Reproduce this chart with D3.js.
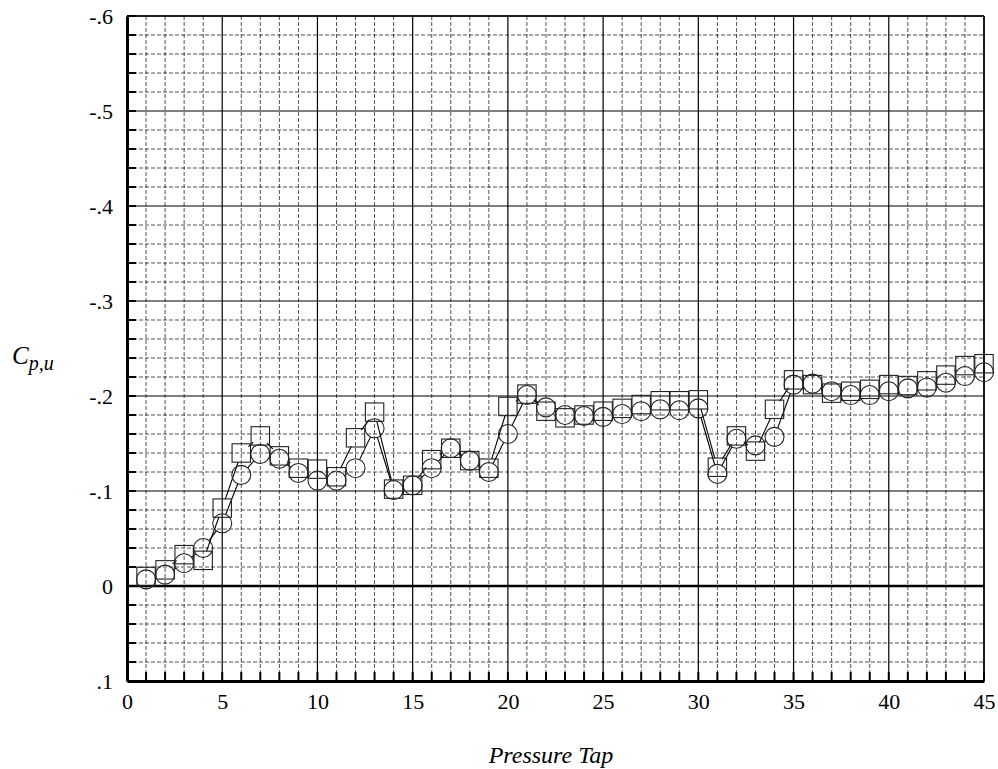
<!DOCTYPE html>
<html>
<head>
<meta charset="utf-8">
<script src="https://cdn.jsdelivr.net/npm/d3@7"></script>
<style>
  html, body { margin: 0; padding: 0; background: #fff; }
  svg { display: block; }
  text { font-family: "Liberation Serif", "Times New Roman", serif; fill: #000; }
</style>
</head>
<body>
<svg id="chart" width="998" height="769"></svg>
<script>
// Pressure tap numbers
const taps = d3.range(1, 46);
// Series A (circles)
const circleValues = [
  -0.007, -0.012, -0.024, -0.040, -0.066, -0.117, -0.139, -0.134, -0.119, -0.111,
  -0.111, -0.124, -0.166, -0.101, -0.106, -0.124, -0.145, -0.132, -0.120, -0.160,
  -0.201, -0.188, -0.180, -0.179, -0.178, -0.181, -0.184, -0.186, -0.185, -0.187,
  -0.118, -0.155, -0.148, -0.157, -0.212, -0.213, -0.205, -0.201, -0.201, -0.205,
  -0.208, -0.209, -0.214, -0.221, -0.225
];
// Series B (squares)
const squareValues = [
  -0.010, -0.017, -0.033, -0.027, -0.082, -0.140, -0.158, -0.137, -0.124, -0.123,
  -0.115, -0.156, -0.183, -0.102, -0.106, -0.133, -0.145, -0.132, -0.124, -0.189,
  -0.202, -0.184, -0.177, -0.180, -0.184, -0.187, -0.191, -0.195, -0.195, -0.196,
  -0.125, -0.158, -0.142, -0.186, -0.217, -0.212, -0.203, -0.205, -0.207, -0.212,
  -0.211, -0.216, -0.222, -0.232, -0.234
];
const xTickValues = [0, 5, 10, 15, 20, 25, 30, 35, 40, 45];
const yTickValues = [-0.6, -0.5, -0.4, -0.3, -0.2, -0.1, 0, 0.1];
const yTickLabels = ["-.6", "-.5", "-.4", "-.3", "-.2", "-.1", "0", ".1"];
const xTitle = "Pressure Tap";

const FONT = '"Liberation Serif", "Times New Roman", serif';
const svg = d3.select("#chart");
const L = 127, R = 984, T = 16, B = 681;
const x = d3.scaleLinear().domain([0, 45]).range([L, R]);
const y = d3.scaleLinear().domain([-0.6, 0.1]).range([T, B]);

const grid = svg.append("g");
// minor vertical grid (each tap)
d3.range(1, 45).filter(v => v % 5 !== 0).forEach(v => {
  grid.append("line").attr("x1", x(v)).attr("x2", x(v)).attr("y1", T).attr("y2", B)
    .attr("stroke", "#000").attr("stroke-width", 0.8).attr("stroke-dasharray", "4,2").attr("opacity", 0.85);
});
// minor horizontal grid (every 0.02)
d3.range(-30, 6).map(i => i * 0.02).filter(v => Math.abs(Math.round(v * 50)) % 5 !== 0).forEach(v => {
  grid.append("line").attr("x1", L).attr("x2", R).attr("y1", y(v)).attr("y2", y(v))
    .attr("stroke", "#000").attr("stroke-width", 0.8).attr("stroke-dasharray", "4,2").attr("opacity", 0.85);
});
// major grid
xTickValues.slice(1).forEach(v => {
  grid.append("line").attr("x1", x(v)).attr("x2", x(v)).attr("y1", T).attr("y2", B)
    .attr("stroke", "#000").attr("stroke-width", 1.2);
});
yTickValues.forEach(v => {
  grid.append("line").attr("x1", L).attr("x2", R).attr("y1", y(v)).attr("y2", y(v))
    .attr("stroke", "#000").attr("stroke-width", v === 0 ? 2.5 : 1.2);
});

// axes
const yAxis = d3.axisLeft(y).tickValues(yTickValues).tickFormat((d, i) => yTickLabels[i]).tickSize(0).tickPadding(14);
const gy = svg.append("g").attr("transform", `translate(${L},0)`).call(yAxis);
gy.attr("font-family", FONT).attr("font-size", 22);
gy.select(".domain").attr("stroke", "#000").attr("stroke-width", 3);
gy.selectAll("text").style("font-family", FONT).style("font-size", "22px");
const xAxis = d3.axisBottom(x).tickValues(xTickValues).tickSize(0).tickPadding(12);
const gx = svg.append("g").attr("transform", `translate(0,${B})`).call(xAxis);
gx.attr("font-family", FONT).attr("font-size", 22);
gx.select(".domain").attr("stroke", "#000").attr("stroke-width", 3);
gx.selectAll("text").style("font-family", FONT).style("font-size", "22px");

// inner tick marks
d3.range(-30, 6).map(i => i * 0.02).forEach(v => {
  svg.append("line").attr("x1", L).attr("x2", L + 9).attr("y1", y(v)).attr("y2", y(v))
    .attr("stroke", "#000").attr("stroke-width", 2);
});
d3.range(0, 46).forEach(v => {
  svg.append("line").attr("x1", x(v)).attr("x2", x(v)).attr("y1", B).attr("y2", B - 9)
    .attr("stroke", "#000").attr("stroke-width", 2);
});
// right & top border
svg.append("line").attr("x1", R).attr("x2", R).attr("y1", T).attr("y2", B).attr("stroke", "#000").attr("stroke-width", 1.5);
svg.append("line").attr("x1", L).attr("x2", R).attr("y1", T).attr("y2", T).attr("stroke", "#000").attr("stroke-width", 1.5);

// series lines, trimmed at marker edges
const rMark = 9.5;
function drawSeries(vals) {
  const g = svg.append("g");
  for (let i = 0; i < vals.length - 1; i++) {
    const x0 = x(taps[i]), y0 = y(vals[i]), x1 = x(taps[i + 1]), y1 = y(vals[i + 1]);
    const dx = x1 - x0, dy = y1 - y0, len = Math.hypot(dx, dy);
    if (len <= 2 * rMark) continue;
    const ux = dx / len, uy = dy / len;
    g.append("line")
      .attr("x1", x0 + ux * rMark).attr("y1", y0 + uy * rMark)
      .attr("x2", x1 - ux * rMark).attr("y2", y1 - uy * rMark)
      .attr("stroke", "#000").attr("stroke-width", 1.1);
  }
}
drawSeries(squareValues);
drawSeries(circleValues);

svg.append("g").selectAll("rect").data(squareValues).join("rect")
  .attr("x", (d, i) => x(taps[i]) - 9.2).attr("y", d => y(d) - 9.2)
  .attr("width", 18.4).attr("height", 18.4)
  .attr("fill", "none").attr("stroke", "#222").attr("stroke-width", 1.1);
svg.append("g").selectAll("circle").data(circleValues).join("circle")
  .attr("cx", (d, i) => x(taps[i])).attr("cy", d => y(d)).attr("r", rMark)
  .attr("fill", "none").attr("stroke", "#222").attr("stroke-width", 1.1);

// titles
svg.append("text").attr("x", 551).attr("y", 763).attr("text-anchor", "middle")
  .style("font-family", FONT).style("font-size", "24px").style("font-style", "italic").text(xTitle);
const yl = svg.append("text").attr("x", 12).attr("y", 364)
  .style("font-family", FONT).style("font-size", "25px").style("font-style", "italic");
yl.append("tspan").text("C");
yl.append("tspan").attr("dy", 6).style("font-size", "20px").text("p,u");
</script>
</body>
</html>
